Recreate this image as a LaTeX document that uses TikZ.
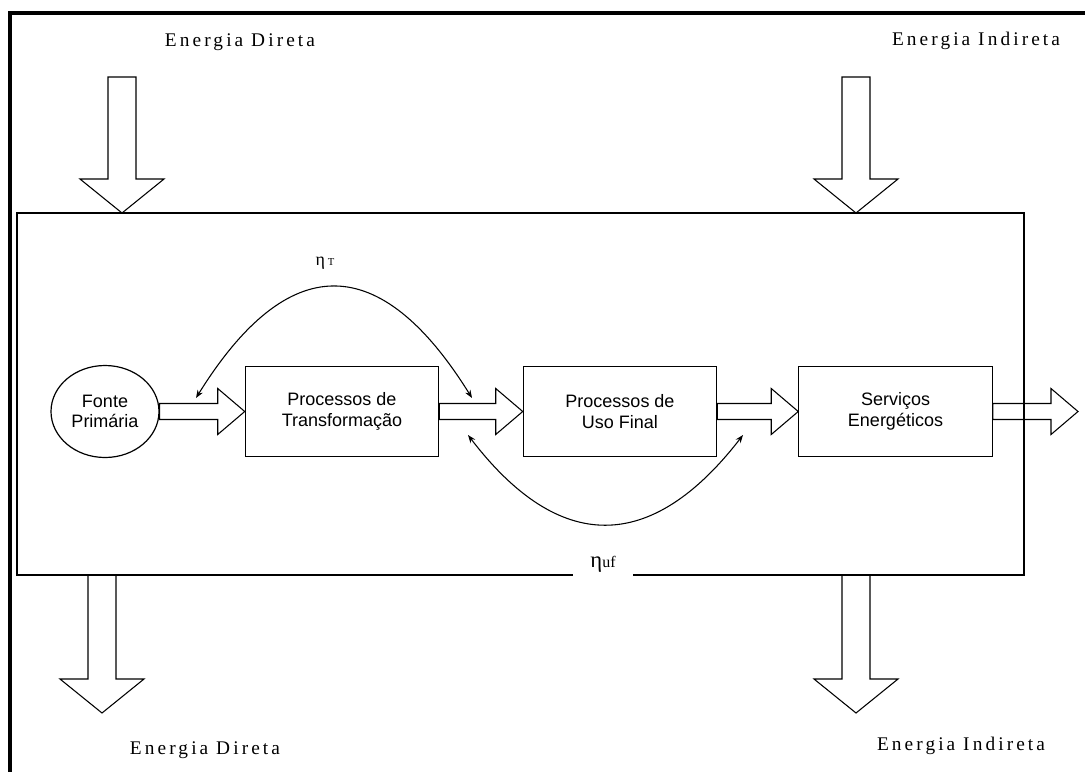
\documentclass[tikz,border=0pt]{standalone}
\usepackage{fontspec}
\setmainfont{Liberation Serif}
\setsansfont{Liberation Sans}
\usetikzlibrary{arrows.meta,positioning,calc,shapes.geometric}

\tikzset{
  procbox/.style={draw, line width=0.9pt, minimum width=145pt, minimum height=68pt, align=center, font=\sffamily\fontsize{13.5}{15.5}\selectfont},
  srcell/.style={ellipse, draw, line width=0.9pt, minimum width=81pt, minimum height=69pt, inner sep=0pt, align=center, font=\sffamily\fontsize{13.5}{15.5}\selectfont},
  flow/.style={draw, line width=0.8pt, line join=miter},
  effarc/.style={line width=0.8pt, {Stealth[length=6pt,width=4.5pt]}-{Stealth[length=6pt,width=4.5pt]}},
  elabel/.style={font=\fontsize{14.5}{17}\selectfont\addfontfeature{LetterSpace=16}}
}

% fat arrow pointing right: #1 start, #2 tip
\newcommand{\hflow}[2]{\draw[flow] ($(#1)+(0,-8)$) -- ($(#2)+(-27,-8)$) -- ($(#2)+(-27,-23)$) -- (#2) -- ($(#2)+(-27,23)$) -- ($(#2)+(-27,8)$) -- ($(#1)+(0,8)$) -- cycle;}
% fat arrow pointing down: #1 start, #2 tip
\newcommand{\vflow}[2]{\draw[flow] ($(#1)+(-14,0)$) -- ($(#2)+(-14,-34)$) -- ($(#2)+(-42,-34)$) -- (#2) -- ($(#2)+(42,-34)$) -- ($(#2)+(14,-34)$) -- ($(#1)+(14,0)$) -- cycle;}

\begin{document}
\begin{tikzpicture}[x=0.75pt,y=0.75pt,yscale=-1,xscale=1]
	\useasboundingbox (0,0) rectangle (1085,772);

	%Shape: outer frame
	\draw [line width=3pt] (1085,13) -- (10,13) -- (10,772);
	%Shape: system box
	\draw [line width=0.9pt] (17,213) rectangle (1024,575);

	%Arrow points
	\coordinate (dirTop) at (122,77);
	\coordinate (dirIn) at (122,213);
	\coordinate (indTop) at (856,77);
	\coordinate (indIn) at (856,213);
	\coordinate (dirOut) at (102,575);
	\coordinate (dirTip) at (102,713);
	\coordinate (indOut) at (856,575);
	\coordinate (indTip) at (856,713);
	\coordinate (saida) at (1078,411.5);

	%Fat arrows in and out
	\vflow{dirTop}{dirIn}
	\vflow{indTop}{indIn}
	\vflow{dirOut}{dirTip}
	\vflow{indOut}{indTip}

	%Chain
	\node [srcell] (fonte) at (105,411.5) {Fonte\\Primária};
	\node [procbox] (transf) at (342,411.5) {Processos de\\Transformação};
	\node [procbox] (usofinal) at (620,411.5) {Processos de\\Uso Final};
	\node [procbox] (servicos) at (895.5,411.5) {Serviços\\Energéticos};

	\hflow{fonte.east}{transf.west}
	\hflow{transf.east}{usofinal.west}
	\hflow{usofinal.east}{servicos.west}
	\hflow{servicos.east}{saida}

	%Efficiency arcs
	\coordinate (tL) at (196,398);
	\coordinate (tR) at (472,398);
	\coordinate (uL) at (468,435);
	\coordinate (uR) at (743,435);
	\draw [effarc] (tL) .. controls (288,250) and (380,250) .. (tR);
	\draw [effarc] (uL) .. controls (559,554) and (651,554) .. (uR);

	% Text Node
	\node (etaT) at (325,263) {\fontsize{13.5}{16}\selectfont η\,{\fontsize{8}{9}\selectfont T}};
	% Text Node
	\node [anchor=base, fill=white, inner xsep=13pt, inner ysep=6pt] (etaUF) at (603,567) {{\fontsize{17}{19}\selectfont η}{\fontsize{12}{14}\selectfont uf}};
	% Text Node
	\node [elabel] (dirA) at (240,42) {Energia Direta};
	% Text Node
	\node [elabel] (indA) at (976,41) {Energia Indireta};
	% Text Node
	\node [elabel] (dirB) at (205,750) {Energia Direta};
	% Text Node
	\node [elabel] (indB) at (961,746) {Energia Indireta};
\end{tikzpicture}
\end{document}
